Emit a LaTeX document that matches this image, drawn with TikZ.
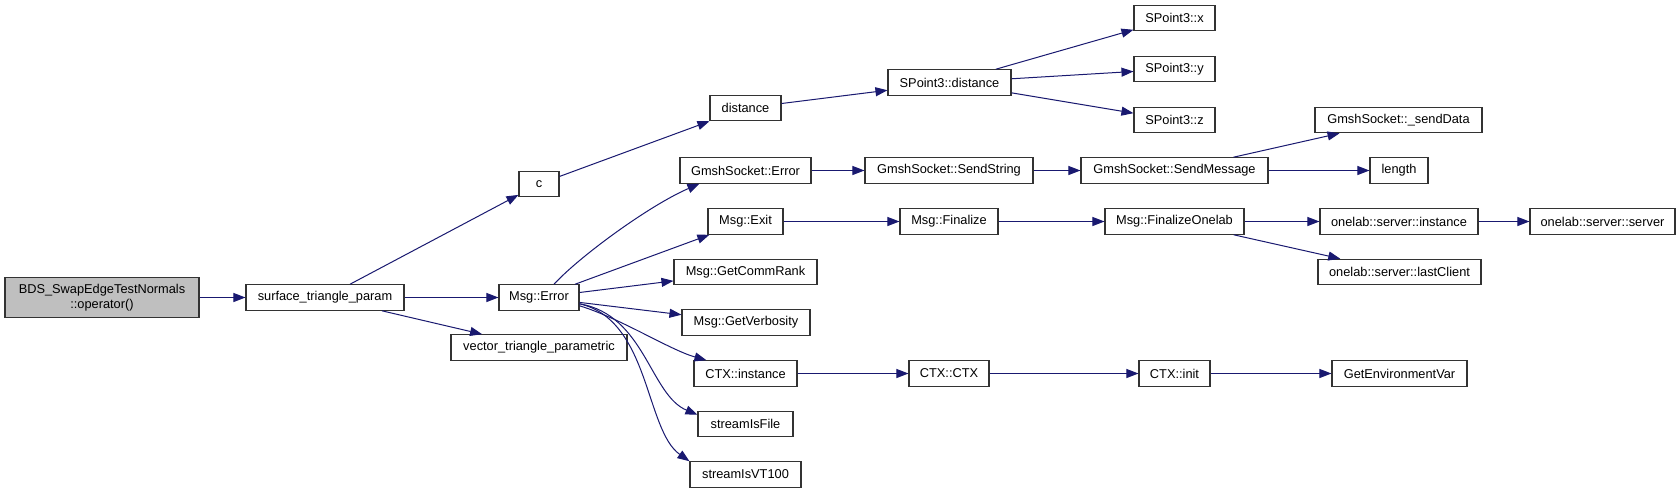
\documentclass[tikz,border=0pt]{standalone}
\usepackage{fontspec}
\setmainfont{Liberation Sans}
\usepackage{xcolor}
\usepackage{tikz}
\usetikzlibrary{arrows.meta, calc}
\definecolor{callblue}{HTML}{191970}
\definecolor{rootgray}{HTML}{BFBFBF}

\begin{document}
\begin{tikzpicture}[x=1pt, y=-1pt, >={Triangle[length=12pt, width=9pt]},
  every node/.style={font=\fontsize{12.8}{15.3}\selectfont},
  fn/.style={draw=black!80, line width=1.1pt, fill=white, minimum height=25.5pt, inner xsep=3pt, inner ysep=0pt},
  call/.style={->, callblue, line width=1pt}]
  \fill[white] (0,0) rectangle (1680,493);
  \useasboundingbox (0,0) rectangle (1680,493);
  % functions, column by column
  \node[fn, fill=rootgray, minimum width=194pt, minimum height=40pt, align=center] (bds) at (102,297.5) {BDS\_SwapEdgeTestNormals\\::operator()};
  \node[fn, minimum width=158pt] (stp) at (325,297.5) {surface\_triangle\_param};
  \node[fn, minimum width=40pt]  (c)   at (539,184) {c};
  \node[fn, minimum width=80pt]  (err) at (539,297.5) {Msg::Error};
  \node[fn, minimum width=176pt] (vtp) at (539,347.5) {vector\_triangle\_parametric};
  \node[fn, minimum width=71pt]  (dist) at (745.5,108) {distance};
  \node[fn, minimum width=131pt] (gse)  at (745.5,170.5) {GmshSocket::Error};
  \node[fn, minimum width=75pt]  (exit) at (745.5,221.5) {Msg::Exit};
  \node[fn, minimum width=143pt] (rank) at (745.5,272) {Msg::GetCommRank};
  \node[fn, minimum width=128pt] (verb) at (746,322.5) {Msg::GetVerbosity};
  \node[fn, minimum width=103pt] (ctxi) at (745.5,373.5) {CTX::instance};
  \node[fn, minimum width=95pt]  (sif)  at (745.5,424) {streamIsFile};
  \node[fn, minimum width=111pt] (vt)   at (745.5,474.5) {streamIsVT100};
  \node[fn, minimum width=123pt] (spd) at (949.5,82.5) {SPoint3::distance};
  \node[fn, minimum width=168pt] (gss) at (949,170.5) {GmshSocket::SendString};
  \node[fn, minimum width=98pt]  (fin) at (949,221.5) {Msg::Finalize};
  \node[fn, minimum width=80pt]  (ctx) at (949,373.5) {CTX::CTX};
  \node[fn, minimum width=81pt]  (spx) at (1174.5,18) {SPoint3::x};
  \node[fn, minimum width=81pt]  (spy) at (1174.5,69) {SPoint3::y};
  \node[fn, minimum width=81pt]  (spz) at (1174.5,120) {SPoint3::z};
  \node[fn, minimum width=187pt] (gsm) at (1174.5,170.5) {GmshSocket::SendMessage};
  \node[fn, minimum width=139pt] (fol) at (1174.5,221.5) {Msg::FinalizeOnelab};
  \node[fn, minimum width=71pt]  (init) at (1174.5,373.5) {CTX::init};
  \node[fn, minimum width=167pt] (gsd) at (1398.5,120) {GmshSocket::\_sendData};
  \node[fn, minimum width=58pt]  (len) at (1399,170.5) {length};
  \node[fn, minimum width=158pt] (osi) at (1399,221.5) {onelab::server::instance};
  \node[fn, minimum width=163pt] (olc) at (1399.5,272) {onelab::server::lastClient};
  \node[fn, minimum width=135pt] (gev) at (1399.5,373.5) {GetEnvironmentVar};
  \node[fn, minimum width=145pt] (oss) at (1602.5,221.5) {onelab::server::server};
  % calls
  \draw[call] (bds) -- (stp);
  \draw[call] (stp) -- (c);
  \draw[call] (stp) -- (err);
  \draw[call] (stp) -- (vtp);
  \draw[call] (c) -- (dist);
  \draw[call] (dist) -- (spd);
  \draw[call] (spd) -- (spx);
  \draw[call] (spd) -- (spy);
  \draw[call] (spd) -- (spz);
  \draw[call] ($(err.north)+(15,0)$) .. controls (580,256) and (650,205) .. ($(gse.south west)+(20,0)$);
  \draw[call] (err) -- (exit);
  \draw[call] (err) -- (rank);
  \draw[call] (err) -- (verb);
  \draw[call] ($(err.south east)+(0,-5)$) .. controls (620,318) and (670,350) .. ($(ctxi.north west)+(13,0)$);
  \draw[call] ($(err.south east)+(0,-7)$) .. controls (645,315) and (650,395) .. ($(sif.north west)+(0,4)$);
  \draw[call] ($(err.south east)+(0,-7)$) .. controls (650,320) and (645,430) .. (vt.north west);
  \draw[call] (gse) -- (gss);
  \draw[call] (gss) -- (gsm);
  \draw[call] (gsm) -- (gsd);
  \draw[call] (gsm) -- (len);
  \draw[call] (exit) -- (fin);
  \draw[call] (fin) -- (fol);
  \draw[call] (fol) -- (osi);
  \draw[call] (osi) -- (oss);
  \draw[call] (fol) -- (olc);
  \draw[call] (ctxi) -- (ctx);
  \draw[call] (ctx) -- (init);
  \draw[call] (init) -- (gev);
\end{tikzpicture}
\end{document}
